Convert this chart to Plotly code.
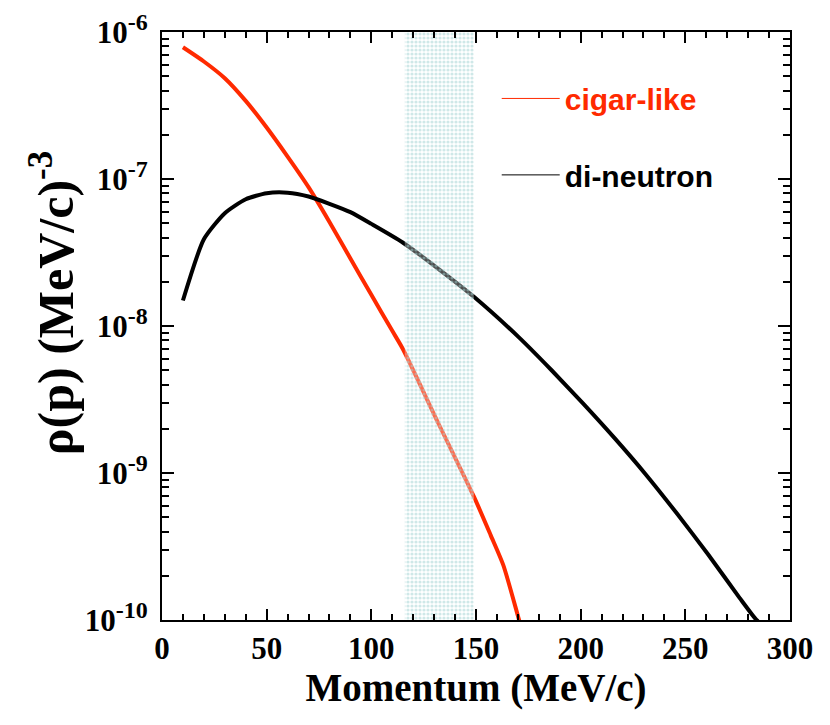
import plotly.graph_objects as go

# cigar-like momentum distribution
cigar_p = [10, 20, 30, 40, 50, 60, 70, 80, 90, 100, 110, 115, 132, 149, 157, 163, 170, 173]
cigar_rho = [7.87e-7, 6.3e-7, 4.85e-7, 3.4e-7, 2.24e-7, 1.42e-7, 8.8e-8, 5.1e-8, 2.88e-8,
             1.63e-8, 9.27e-9, 7.0e-9, 2.18e-9, 6.9e-10, 3.78e-10, 2.37e-10, 1.07e-10, 7.5e-11]

# di-neutron momentum distribution
dineu_p = [10, 20, 30, 40, 50, 60, 70, 80, 90, 100, 115, 132, 149, 171, 186, 201, 216, 231,
           246, 261, 276, 284, 287]
dineu_rho = [1.49e-8, 3.89e-8, 5.85e-8, 7.28e-8, 8.0e-8, 8.07e-8, 7.6e-8, 6.78e-8, 5.95e-8,
             4.95e-8, 3.7e-8, 2.45e-8, 1.58e-8, 8.24e-9, 5.02e-9, 2.99e-9, 1.74e-9, 9.82e-10,
             5.3e-10, 2.78e-10, 1.41e-10, 1.0e-10, 9.2e-11]

# shaded momentum window
band_p = [116, 149]
band_rho = [1e-10, 1e-6]

x_ticks = [0, 50, 100, 150, 200, 250, 300]
y_tickvals = [1e-10, 1e-9, 1e-8, 1e-7, 1e-6]
y_exps = ["-10", "-9", "-8", "-7", "-6"]
y_ticktext = ["10<sup><span style='font-size:24px'>%s</span></sup>" % e for e in y_exps]
y_minor = [m * 10.0 ** e for e in range(-10, -6) for m in range(2, 10)]

RED = "#ff2a00"
SERIF = "Liberation Serif"

fig = go.Figure()
fig.add_trace(go.Scatter(x=cigar_p, y=cigar_rho, mode="lines",
                         line=dict(color=RED, width=4, shape="spline", smoothing=0.7),
                         showlegend=False))
fig.add_trace(go.Scatter(x=dineu_p, y=dineu_rho, mode="lines",
                         line=dict(color="black", width=4, shape="spline", smoothing=0.6),
                         showlegend=False))
# shaded window drawn on top with a checker-like pattern
fig.add_trace(go.Scatter(x=[band_p[0], band_p[1], band_p[1], band_p[0], band_p[0]],
                         y=[band_rho[0], band_rho[0], band_rho[1], band_rho[1], band_rho[0]],
                         mode="none", fill="toself", fillcolor="rgba(170,216,216,0.55)",
                         fillpattern=dict(shape=".", size=4, solidity=0.5, fgcolor="#9fd2d2",
                                          bgcolor="rgba(255,255,255,0.3)"),
                         showlegend=False, hoverinfo="skip"))
# legend entries
fig.add_trace(go.Scatter(x=[None], y=[None], mode="lines", line=dict(color=RED, width=1),
                         name="<b>cigar-like</b>", legend="legend"))
fig.add_trace(go.Scatter(x=[None], y=[None], mode="lines", line=dict(color="black", width=1),
                         name="<b>di-neutron</b>", legend="legend2"))

axis_common = dict(showline=True, linecolor="black", linewidth=2, mirror="ticks",
                   ticks="inside", tickcolor="black", tickwidth=2, showgrid=False,
                   zeroline=False, automargin=False)

fig.update_xaxes(range=[0, 300], tickvals=x_ticks, ticklen=11,
                 tickfont=dict(family=SERIF, size=31, color="black", weight="bold"),
                 minor=dict(dtick=10, ticks="inside", ticklen=6, tickcolor="black", tickwidth=2),
                 title=dict(text="<b>Momentum (MeV/c)</b>", font=dict(family=SERIF, size=39, color="black"),
                            standoff=0),
                 **axis_common)
fig.update_yaxes(type="log", range=[-10, -6], tickvals=y_tickvals, ticktext=y_ticktext, ticklen=12,
                 tickfont=dict(family=SERIF, size=31, color="black", weight="bold"),
                 ticklabelstandoff=6,
                 minor=dict(tickvals=y_minor, ticks="inside", ticklen=7, tickcolor="black", tickwidth=2),
                 **axis_common)

# y-axis title (placed as rotated text, slightly above centre like the reference)
fig.add_annotation(text="<b>ρ(p) (MeV/c)<sup>-3</sup></b>", xref="paper", yref="paper",
                   x=-0.175, y=0.539, xanchor="center", yanchor="middle", textangle=-90,
                   showarrow=False, font=dict(family=SERIF, size=50, color="black"))

fig.update_layout(
    width=822, height=717,
    margin=dict(l=154, r=40, t=24, b=105),
    plot_bgcolor="white", paper_bgcolor="white",
    legend=dict(x=0.533, y=0.887, xanchor="left", yanchor="middle", bgcolor="rgba(0,0,0,0)",
                itemwidth=58,
                font=dict(family="Liberation Sans", size=30, color=RED)),
    legend2=dict(x=0.533, y=0.757, xanchor="left", yanchor="middle", bgcolor="rgba(0,0,0,0)",
                 itemwidth=58,
                 font=dict(family="Liberation Sans", size=30, color="black")),
)

fig.write_html("out.html")
